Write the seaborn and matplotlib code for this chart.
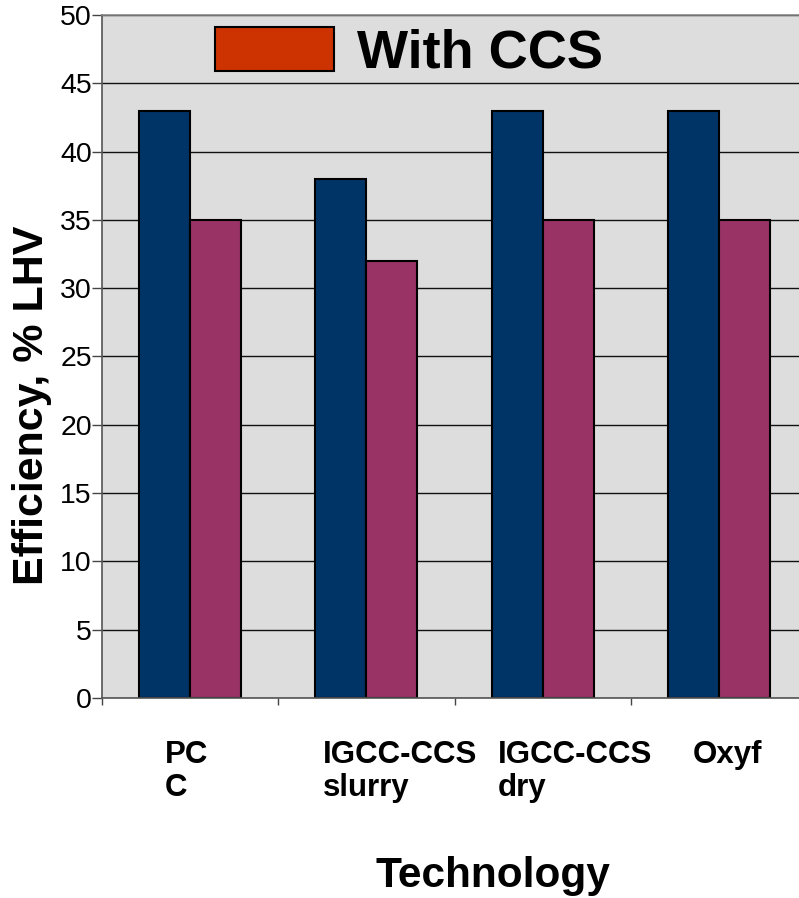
import matplotlib
matplotlib.use("Agg")
import matplotlib.pyplot as plt
import matplotlib.transforms as mtransforms
from matplotlib.patches import Patch
import seaborn as sns
import pandas as pd
import numpy as np

categories = ["PC\nC", "IGCC-CCS\nslurry", "IGCC-CCS\ndry", "Oxyf"]
series_names = ["Without CCS", "With CCS"]
without_ccs = [43, 38, 43, 43]
with_ccs = [35, 32, 35, 35]
y_ticks = [0, 5, 10, 15, 20, 25, 30, 35, 40, 45, 50]

df = pd.DataFrame({
    "Technology": categories * 2,
    "Series": [series_names[0]] * 4 + [series_names[1]] * 4,
    "Efficiency": without_ccs + with_ccs,
})

sns.set_theme(style="white")
plt.rcParams["font.family"] = ["Liberation Sans", "DejaVu Sans"]
plt.rcParams["text.color"] = "black"
plt.rcParams["axes.labelcolor"] = "black"
plt.rcParams["xtick.color"] = "black"
plt.rcParams["ytick.color"] = "black"

W, H = 799, 898
fig = plt.figure(figsize=(W / 100, H / 100), dpi=100)
ax = fig.add_axes([101.5 / W, (H - 698) / H, 706 / W, 683 / H])
ax.set_facecolor("#DDDDDD")
ax.set_axisbelow(True)
ax.yaxis.grid(True, color="#111111", linewidth=1.0)

sns.barplot(data=df, x="Technology", y="Efficiency", hue="Series",
            hue_order=series_names, order=categories,
            palette=["#003366", "#993366"], width=0.58, saturation=1,
            edgecolor="black", linewidth=1.5, legend=False, ax=ax)

ax.set_ylim(0, 50)
ax.set_xlim(-0.5, len(categories) - 0.5)
ax.set_yticks(y_ticks)
ax.set_yticklabels([str(v) for v in y_ticks], fontsize=20.5, color="black")
ax.tick_params(axis="y", which="major", left=True, length=7, width=1,
               color="#444444", pad=0)

# category labels (no tick marks) + tick marks at category boundaries
ax.set_xticks(range(len(categories)))
ax.set_xticklabels(categories, fontsize=22.5, fontweight="bold",
                   ha="left", linespacing=1.15, color="black")
ax.tick_params(axis="x", which="major", length=0, pad=30)
ax.set_xticks(np.arange(len(categories)) - 0.5, minor=True)
ax.tick_params(axis="x", which="minor", bottom=True, length=5, width=1,
               color="#444444")
dx_px = [-25, -43, -45, -27]
for lab, dx in zip(ax.get_xticklabels(), dx_px):
    lab.set_transform(lab.get_transform() +
                      mtransforms.ScaledTranslation(dx / 100, 0, fig.dpi_scale_trans))

for s in ["left", "bottom", "top"]:
    ax.spines[s].set_visible(True)
    ax.spines[s].set_color("#555555")
    ax.spines[s].set_linewidth(1.2)
ax.spines["top"].set_color("#888888")
ax.spines["right"].set_visible(False)

ax.set_xlabel("Technology", fontsize=30.5, fontweight="bold", color="black")
ax.xaxis.set_label_coords((493 - 101.5) / 706, (698 - 887) / 683)
ax.xaxis.label.set_verticalalignment("baseline")
ax.set_ylabel("Efficiency, % LHV", fontsize=31, fontweight="bold", color="black")
ax.yaxis.set_label_coords((32 - 101.5) / 706, (698 - 405.5) / 683)
ax.yaxis.label.set_verticalalignment("center")
ax.yaxis.label.set_horizontalalignment("center")

handle = Patch(facecolor="#CC3300", edgecolor="black", linewidth=1.5)
leg = ax.legend([handle], ["With CCS"], loc="upper left",
                bbox_to_anchor=(215 / W, 1 - 27 / H),
                bbox_transform=fig.transFigure, frameon=False,
                prop={"size": 39, "weight": "bold"},
                handlelength=2.2, handleheight=0.88, handletextpad=0.42,
                borderpad=0, borderaxespad=0)
for t in leg.get_texts():
    t.set_color("black")

fig.savefig("out.png", dpi=100)
